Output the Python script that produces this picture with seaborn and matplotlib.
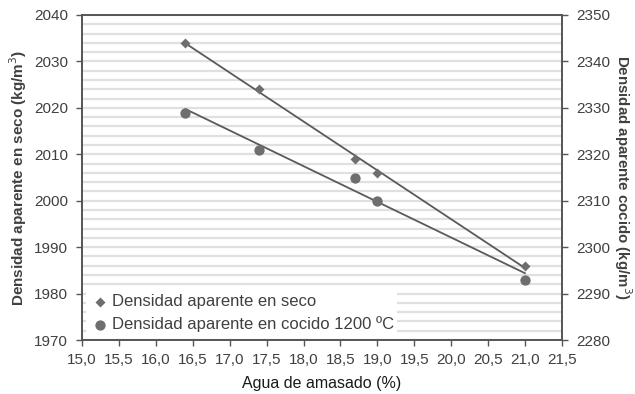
import matplotlib
matplotlib.use("Agg")
import matplotlib.pyplot as plt
import seaborn as sns
import numpy as np
import pandas as pd
from matplotlib.ticker import FuncFormatter, MultipleLocator

sns.set_theme(style="white")
plt.rcParams['font.family'] = ['Liberation Sans', 'DejaVu Sans']

agua = [16.4, 17.4, 18.7, 19.0, 21.0]
seco = [2034, 2024, 2009, 2006, 1986]
cocido = [2329, 2321, 2315, 2310, 2293]
x_ticks = [15.0, 15.5, 16.0, 16.5, 17.0, 17.5, 18.0, 18.5, 19.0, 19.5, 20.0, 20.5, 21.0, 21.5]
lab_seco = "Densidad aparente en seco"
lab_cocido = "Densidad aparente en cocido 1200 ºC"

df = pd.DataFrame({"agua": agua, "seco": seco, "cocido": cocido})

txt = "#404040"
mk = "#6e6e6e"
ln = "#5a5a5a"

fig = plt.figure(figsize=(6.35, 3.94), dpi=100)
ax = fig.add_axes([82/635, 1-340/394, (562-82)/635, (340-15)/394])
ax2 = ax.twinx()

ax.set_ylim(1970, 2040)
ax2.set_ylim(2280, 2350)
ax.set_xlim(15.0, 21.5)
ax.yaxis.set_minor_locator(MultipleLocator(2))
ax.grid(True, axis='y', which='both', color='#e0e0e0', linewidth=1.6)
ax.set_axisbelow(True)

sns.regplot(data=df, x="agua", y="seco", ax=ax, scatter=False, ci=None, truncate=True,
            line_kws=dict(color=ln, linewidth=1.3))
sns.scatterplot(data=df, x="agua", y="seco", ax=ax, marker='D', s=26, color=mk,
                edgecolor=mk, linewidth=0, label=lab_seco, zorder=4)
sns.regplot(data=df, x="agua", y="cocido", ax=ax2, scatter=False, ci=None, truncate=True,
            line_kws=dict(color=ln, linewidth=1.3))
sns.scatterplot(data=df, x="agua", y="cocido", ax=ax2, marker='o', s=55, color=mk,
                edgecolor=mk, linewidth=0, label=lab_cocido, zorder=4)

ax.set_xticks(x_ticks)
ax.xaxis.set_major_formatter(FuncFormatter(lambda v, p: f"{v:.1f}".replace('.', ',')))
ax.set_yticks(np.arange(1970, 2041, 10))
ax2.set_yticks(np.arange(2280, 2351, 10))

for a in (ax, ax2):
    a.tick_params(axis='both', which='major', direction='out', length=4, width=1,
                  color='#555555', labelsize=11, labelcolor=txt, pad=6)
    a.tick_params(axis='y', which='minor', length=0)
    for s in a.spines.values():
        s.set_color('#555555')
        s.set_linewidth(1.2)
ax.tick_params(axis='x', bottom=True, pad=5)
ax.tick_params(axis='y', left=True)
ax2.tick_params(axis='y', right=True)

ax.set_xlabel("Agua de amasado (%)", fontsize=11.5, color='#1a1a1a', labelpad=7)
ax.set_ylabel("Densidad aparente en seco (kg/m$^3$)", fontsize=11, color=txt,
              fontweight='bold', labelpad=4)
ax2.set_ylabel("Densidad aparente cocido (kg/m$^3$)", fontsize=10.8, color=txt,
               fontweight='bold', rotation=270, labelpad=17)

h1, l1 = ax.get_legend_handles_labels()
h2, l2 = ax2.get_legend_handles_labels()
if ax2.get_legend():
    ax2.get_legend().remove()
leg = ax2.legend(h1 + h2, l1 + l2, loc='lower left', bbox_to_anchor=(0.0, 0.0),
                 frameon=True, facecolor='white', edgecolor='white', framealpha=1,
                 fontsize=12, labelcolor=txt, handletextpad=0.15, borderpad=0.2,
                 handlelength=1.2, labelspacing=0.45, borderaxespad=0.25)
leg.get_frame().set_linewidth(0)
if ax.get_legend():
    ax.get_legend().remove()

fig.savefig("out.png", dpi=100)
